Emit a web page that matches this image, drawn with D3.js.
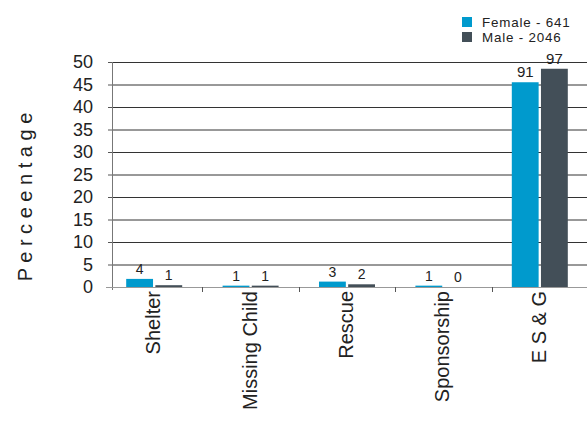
<!DOCTYPE html>
<html><head><meta charset="utf-8">
<script src="https://cdn.jsdelivr.net/npm/d3@7"></script>
<style>body{margin:0;background:#fff}svg{display:block}text{font-family:"Liberation Sans",Arial,sans-serif;fill:#222}</style>
</head><body><svg id="c" width="587" height="423"></svg>
<script>
const categories = ["Shelter","Missing Child","Rescue","Sponsorship","E S & G"];
const seriesNames = ["Female - 641","Male - 2046"];
const femaleHeights = [1.8,0.3,1.2,0.3,45.5];
const maleHeights = [0.4,0.3,0.6,0,48.5];
const femaleLabels = [4,1,3,1,91];
const maleLabels = [1,1,2,0,97];
const yTicks = [0,5,10,15,20,25,30,35,40,45,50];
const colors = ["#009acd","#434f58"];

const svg = d3.select("#c");
const y = d3.scaleLinear().domain([0,50]).range([287,62]);
const x = d3.scaleBand().domain(categories).range([106,588]);
const inner = d3.scaleBand().domain([0,1]).range([-28,28]).paddingInner(0.08);

// gridlines
svg.append("g").selectAll("line").data(yTicks.filter(d=>d>0)).join("line")
  .attr("x1",112).attr("x2",587).attr("y1",d=>y(d)+0.5).attr("y2",d=>y(d)+0.5)
  .attr("stroke","#333").attr("stroke-width",1);

// y axis
const yAxis = svg.append("g").attr("transform","translate(112,0)")
  .call(d3.axisLeft(y).tickValues(yTicks).tickSize(4).tickPadding(15));
yAxis.select(".domain").attr("stroke","#777").attr("d","M0.5,62V290");
yAxis.selectAll(".tick line").attr("stroke","#555");
yAxis.selectAll(".tick text").attr("font-size",18).attr("fill","#222")
  .style("font-family","Liberation Sans, Arial, sans-serif");

// x baseline and ticks
svg.append("line").attr("x1",106).attr("x2",587).attr("y1",y(0)+0.5).attr("y2",y(0)+0.5)
  .attr("stroke","#999").attr("stroke-width",1.2);
svg.append("g").selectAll("line").data(categories.slice(1)).join("line")
  .attr("x1",d=>Math.round(x(d))+0.5).attr("x2",d=>Math.round(x(d))+0.5)
  .attr("y1",y(0)).attr("y2",y(0)+5).attr("stroke","#555");

// bars
const data = categories.map((c,i)=>({c,vals:[femaleHeights[i],maleHeights[i]],labs:[femaleLabels[i],maleLabels[i]]}));
const g = svg.append("g").selectAll("g").data(data).join("g")
  .attr("transform",d=>`translate(${x(d.c)+x.bandwidth()/2},0)`);
g.selectAll("rect").data(d=>d.vals.map((v,k)=>({v,k}))).join("rect")
  .attr("x",d=>inner(d.k)).attr("width",inner.bandwidth())
  .attr("y",d=>y(d.v)).attr("height",d=>y(0)-y(d.v))
  .attr("fill",d=>colors[d.k]);
g.selectAll("text.v").data(d=>d.vals.map((v,k)=>({v,k,l:d.labs[k]}))).join("text")
  .attr("class","v").attr("text-anchor","middle")
  .attr("x",d=>inner(d.k)+inner.bandwidth()/2).attr("y",d=>y(d.v)-5)
  .attr("font-size",d=>d.v>10?15:14).text(d=>d.l);

// x labels
svg.append("g").selectAll("text").data(categories).join("text")
  .attr("transform",d=>`translate(${x(d)+x.bandwidth()/2-1},291) rotate(-90)`)
  .attr("text-anchor","end").attr("dy","0.35em").attr("font-size",20).text(d=>d);

// y title
svg.append("text").attr("transform","translate(32,197) rotate(-90)")
  .attr("text-anchor","middle").attr("font-size",20).text("P e r c e e n t a g e");

// legend
const lg = svg.append("g").selectAll("g").data(seriesNames).join("g")
  .attr("transform",(d,i)=>`translate(462,${17+i*15})`);
lg.append("rect").attr("width",10).attr("height",10).attr("fill",(d,i)=>colors[i]);
lg.append("text").attr("x",20).attr("y",9.5).attr("font-size",13.4)
  .attr("letter-spacing",0.8).text(d=>d);
</script></body></html>
